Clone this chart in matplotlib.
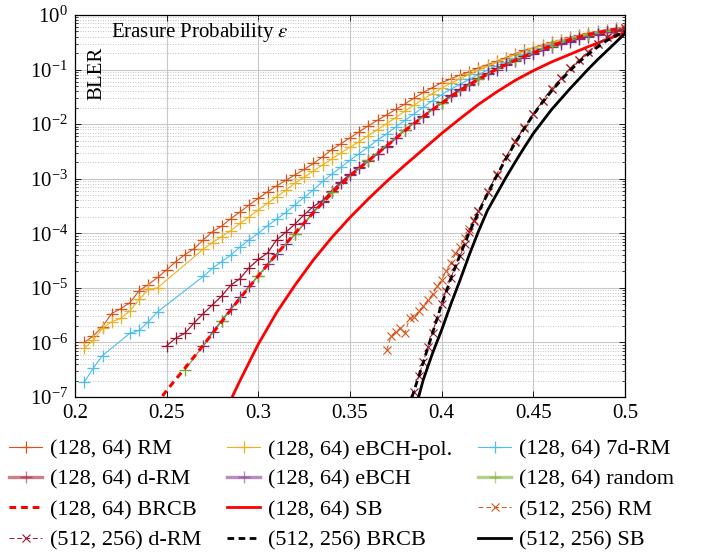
import numpy as np
import matplotlib
matplotlib.use("Agg")
import matplotlib.pyplot as plt
from matplotlib.lines import Line2D
from matplotlib.ticker import LogLocator, FixedLocator, FuncFormatter, NullFormatter

plt.rcParams['font.family'] = ['Liberation Serif', 'DejaVu Serif']
plt.rcParams['mathtext.fontset'] = 'stix'

# ---------------- data (BLER stored as log10 values) ----------------
eps_rm128 = [0.205, 0.21, 0.215, 0.22, 0.225, 0.23, 0.235, 0.24, 0.245, 0.25,
             0.255, 0.26, 0.265, 0.27, 0.275, 0.28, 0.285, 0.29, 0.295, 0.30,
             0.305, 0.31, 0.315, 0.32, 0.325, 0.33, 0.335, 0.34, 0.345, 0.35,
             0.355, 0.36, 0.365, 0.37, 0.375, 0.38, 0.385, 0.39, 0.395, 0.40,
             0.405, 0.41, 0.415, 0.42, 0.425, 0.43, 0.435, 0.44, 0.445, 0.45,
             0.455, 0.46, 0.465, 0.47, 0.475, 0.48, 0.485, 0.49, 0.495, 0.50]
rm128_log = [-6.00, -5.88, -5.71, -5.47, -5.38, -5.27, -5.05, -4.94, -4.81, -4.67,
             -4.52, -4.39, -4.28, -4.12, -3.97, -3.87, -3.73, -3.61, -3.48, -3.36,
             -3.24, -3.13, -3.03, -2.93, -2.83, -2.72, -2.60, -2.47, -2.36, -2.25,
             -2.14, -2.03, -1.93, -1.83, -1.73, -1.63, -1.52, -1.42, -1.33, -1.24,
             -1.17, -1.10, -1.04, -0.97, -0.91, -0.85, -0.78, -0.71, -0.65, -0.60,
             -0.55, -0.50, -0.46, -0.41, -0.37, -0.33, -0.30, -0.27, -0.24, -0.22]

eps_pol128 = [0.205, 0.21, 0.215, 0.22, 0.225, 0.23, 0.235, 0.24, 0.245,
              0.27, 0.275, 0.28, 0.285, 0.29, 0.295, 0.30, 0.305, 0.31, 0.315,
              0.32, 0.325, 0.33, 0.335, 0.34, 0.345, 0.35, 0.355, 0.36, 0.365,
              0.37, 0.375, 0.38, 0.385, 0.39, 0.395, 0.40, 0.405, 0.41, 0.415,
              0.42, 0.425, 0.43, 0.435, 0.44, 0.445, 0.45, 0.455, 0.46, 0.465,
              0.47, 0.475, 0.48, 0.485, 0.49, 0.495, 0.50]
pol128_log = [-6.11, -5.96, -5.74, -5.62, -5.56, -5.42, -5.21, -5.03, -5.00,
              -4.29, -4.17, -4.06, -3.95, -3.82, -3.70, -3.57, -3.45, -3.33, -3.21,
              -3.08, -2.97, -2.86, -2.75, -2.64, -2.53, -2.42, -2.32, -2.21, -2.10,
              -1.99, -1.88, -1.76, -1.65, -1.54, -1.44, -1.34, -1.25, -1.17, -1.09,
              -1.01, -0.94, -0.87, -0.80, -0.73, -0.67, -0.61, -0.56, -0.51, -0.46,
              -0.42, -0.38, -0.34, -0.31, -0.28, -0.25, -0.23]

eps_7drm128 = [0.205, 0.21, 0.215, 0.23, 0.235, 0.24, 0.245,
               0.27, 0.275, 0.28, 0.285, 0.29, 0.295, 0.30, 0.305, 0.31, 0.315,
               0.32, 0.325, 0.33, 0.335, 0.34, 0.345, 0.35, 0.355, 0.36, 0.365,
               0.37, 0.375, 0.38, 0.385, 0.39, 0.395, 0.40, 0.405, 0.41, 0.415,
               0.42, 0.425, 0.43, 0.435, 0.44, 0.445, 0.45, 0.455, 0.46, 0.465,
               0.47, 0.475, 0.48, 0.485, 0.49, 0.495, 0.50]
drm7_128_log = [-6.73, -6.47, -6.24, -5.83, -5.78, -5.62, -5.44,
                -4.79, -4.64, -4.52, -4.40, -4.25, -4.12, -4.00, -3.86, -3.74, -3.62,
                -3.48, -3.34, -3.21, -3.05, -2.92, -2.79, -2.66, -2.54, -2.42, -2.29,
                -2.18, -2.05, -1.93, -1.81, -1.69, -1.57, -1.46, -1.36, -1.27, -1.18,
                -1.09, -1.01, -0.93, -0.86, -0.79, -0.72, -0.66, -0.60, -0.54, -0.49,
                -0.44, -0.40, -0.36, -0.32, -0.29, -0.26, -0.24]

eps_drm128 = [0.25, 0.255, 0.26, 0.265, 0.27, 0.275, 0.28, 0.285, 0.29, 0.295,
              0.30, 0.305, 0.31, 0.315, 0.32, 0.325, 0.33, 0.335, 0.34, 0.345,
              0.35, 0.355, 0.36, 0.365, 0.37, 0.375, 0.38, 0.385, 0.39, 0.395,
              0.40, 0.405, 0.41, 0.415, 0.42, 0.425, 0.43, 0.435, 0.44, 0.445,
              0.45, 0.455, 0.46, 0.465, 0.47, 0.475, 0.48, 0.485, 0.49, 0.495, 0.50]
drm128_log = [-6.06, -5.92, -5.83, -5.64, -5.47, -5.31, -5.15, -4.95, -4.83, -4.63,
              -4.48, -4.36, -4.12, -3.98, -3.83, -3.66, -3.51, -3.40, -3.22, -3.06,
              -2.92, -2.79, -2.66, -2.54, -2.40, -2.25, -2.10, -1.97, -1.85, -1.72,
              -1.60, -1.47, -1.36, -1.26, -1.16, -1.07, -0.98, -0.90, -0.83, -0.76,
              -0.70, -0.63, -0.57, -0.52, -0.47, -0.42, -0.38, -0.34, -0.31, -0.28, -0.25]

eps_ebch128 = [0.27, 0.275, 0.28, 0.285, 0.29, 0.295, 0.30, 0.305, 0.31, 0.315,
               0.32, 0.325, 0.33, 0.335, 0.34, 0.345, 0.35, 0.355, 0.36, 0.365,
               0.37, 0.375, 0.38, 0.385, 0.39, 0.395, 0.40, 0.405, 0.41, 0.415,
               0.42, 0.425, 0.43, 0.435, 0.44, 0.445, 0.45, 0.455, 0.46, 0.465,
               0.47, 0.475, 0.48, 0.485, 0.49, 0.495, 0.50]
ebch128_log = [-6.07, -5.81, -5.60, -5.38, -5.17, -4.97, -4.78, -4.57, -4.38, -4.20,
               -4.02, -3.82, -3.61, -3.42, -3.25, -3.08, -2.94, -2.81, -2.68, -2.55,
               -2.41, -2.26, -2.11, -1.98, -1.86, -1.73, -1.62, -1.49, -1.38, -1.28,
               -1.18, -1.09, -1.00, -0.92, -0.85, -0.78, -0.72, -0.65, -0.59, -0.54,
               -0.49, -0.44, -0.40, -0.36, -0.32, -0.29, -0.26]

eps_rand128 = [0.26, 0.28, 0.30, 0.32, 0.34, 0.36, 0.38, 0.40, 0.42, 0.44, 0.46, 0.48, 0.50]
rand128_log = [-6.50, -5.61, -4.78, -4.01, -3.25, -2.66, -2.10, -1.62, -1.17, -0.83, -0.56, -0.37, -0.25]

eps_brcb128 = [0.24, 0.25, 0.26, 0.27, 0.28, 0.29, 0.30, 0.31, 0.32, 0.33, 0.34, 0.35,
               0.36, 0.37, 0.38, 0.39, 0.40, 0.41, 0.42, 0.43, 0.44, 0.45, 0.46,
               0.47, 0.48, 0.49, 0.50]
brcb128_log = [-7.32, -6.88, -6.47, -6.05, -5.62, -5.19, -4.78, -4.38, -4.00, -3.62, -3.27, -2.95,
               -2.67, -2.40, -2.12, -1.86, -1.62, -1.39, -1.18, -0.99, -0.83, -0.69, -0.56,
               -0.45, -0.36, -0.29, -0.24]

eps_sb128 = [0.28, 0.29, 0.30, 0.31, 0.32, 0.33, 0.34, 0.35, 0.36, 0.37, 0.38, 0.39,
             0.40, 0.41, 0.42, 0.43, 0.44, 0.45, 0.46, 0.47, 0.48, 0.49, 0.50]
sb128_log = [-7.40, -6.70, -6.03, -5.45, -4.95, -4.49, -4.08, -3.71, -3.37, -3.05, -2.75, -2.46,
             -2.17, -1.90, -1.64, -1.41, -1.20, -1.02, -0.86, -0.72, -0.58, -0.45, -0.32]

eps_rm512 = [0.37, 0.3725, 0.375, 0.3775, 0.38, 0.3825, 0.385, 0.3875, 0.39, 0.3925,
             0.395, 0.3975, 0.40, 0.4025, 0.405, 0.4075, 0.41, 0.4125, 0.415, 0.4175,
             0.42, 0.425, 0.43, 0.435, 0.44, 0.445, 0.45, 0.455, 0.46, 0.465,
             0.47, 0.475, 0.48, 0.485, 0.49, 0.495, 0.50]
rm512_log = [-6.14, -5.88, -5.80, -5.74, -5.82, -5.56, -5.54, -5.42, -5.34, -5.22,
             -5.12, -4.97, -4.85, -4.70, -4.55, -4.37, -4.25, -4.08, -3.93, -3.76,
             -3.60, -3.24, -2.92, -2.60, -2.31, -2.06, -1.81, -1.57, -1.35, -1.16,
             -0.98, -0.82, -0.67, -0.53, -0.41, -0.31, -0.24]

eps_drm512 = [0.3825, 0.385, 0.3875, 0.39, 0.3925, 0.395, 0.3975, 0.40, 0.4025, 0.405,
              0.4075, 0.41, 0.4125, 0.415, 0.4175, 0.42, 0.425, 0.43, 0.435, 0.44,
              0.445, 0.45, 0.455, 0.46, 0.465, 0.47, 0.475, 0.48, 0.485, 0.49, 0.495, 0.50]
drm512_log = [-7.08, -6.90, -6.62, -6.35, -6.08, -5.83, -5.55, -5.29, -5.05, -4.82,
              -4.60, -4.42, -4.20, -3.97, -3.78, -3.60, -3.25, -2.93, -2.61, -2.32,
              -2.07, -1.81, -1.57, -1.35, -1.16, -0.98, -0.82, -0.67, -0.53, -0.41, -0.31, -0.24]

eps_brcb512 = [0.38, 0.385, 0.39, 0.395, 0.40, 0.405, 0.41, 0.415, 0.42, 0.425, 0.43,
               0.435, 0.44, 0.445, 0.45, 0.455, 0.46, 0.465, 0.47, 0.475, 0.48, 0.485,
               0.49, 0.495, 0.50]
brcb512_log = [-7.40, -6.88, -6.36, -5.83, -5.30, -4.83, -4.40, -3.99, -3.62, -3.28, -2.95,
               -2.64, -2.35, -2.08, -1.83, -1.60, -1.39, -1.20, -1.02, -0.86, -0.72, -0.59,
               -0.47, -0.38, -0.30]

eps_sb512 = [0.385, 0.39, 0.395, 0.40, 0.405, 0.41, 0.415, 0.42, 0.425, 0.43, 0.435,
             0.44, 0.445, 0.45, 0.455, 0.46, 0.465, 0.47, 0.475, 0.48, 0.485, 0.49,
             0.495, 0.50]
sb512_log = [-7.30, -6.68, -6.20, -5.77, -5.30, -4.86, -4.40, -3.97, -3.58, -3.28, -2.98,
             -2.70, -2.43, -2.17, -1.95, -1.73, -1.54, -1.35, -1.17, -0.99, -0.82, -0.66,
             -0.50, -0.34]

labels = ["(128, 64) RM", "(128, 64) eBCH-pol.", "(128, 64) 7d-RM",
          "(128, 64) d-RM", "(128, 64) eBCH", "(128, 64) random",
          "(128, 64) BRCB", "(128, 64) SB", "(512, 256) RM",
          "(512, 256) d-RM", "(512, 256) BRCB", "(512, 256) SB"]
x_ticks = [0.2, 0.25, 0.3, 0.35, 0.4, 0.45, 0.5]

# ---------------- styles ----------------
C_RM = '#D95319'
C_POL = '#EDB120'
C_7D = '#4DBEEE'
C_DRM = '#A2142F'
C_EBCH = '#7E2F8E'
C_RAND = '#77AC30'
C_RED = '#FF0000'

fig = plt.figure(figsize=(7.17, 5.52), dpi=100)
ax = fig.add_axes([75/717, 1-397/552, 550/717, 382/552])

mk = dict(marker='+', markersize=8, markeredgewidth=0.9)
series = [
    (eps_rm128, rm128_log, dict(color=C_RM, lw=0.8, **mk)),
    (eps_pol128, pol128_log, dict(color=C_POL, lw=0.8, **mk)),
    (eps_7drm128, drm7_128_log, dict(color=C_7D, lw=0.8, **mk)),
    (eps_drm128, drm128_log, dict(color=C_DRM, lw=0.9, **mk)),
    (eps_ebch128, ebch128_log, dict(color=C_EBCH, lw=0.9, **mk)),
    (eps_rand128, rand128_log, dict(color=C_RAND, lw=0.9, **mk)),
    (eps_brcb128, brcb128_log, dict(color=C_RED, lw=2.2, ls=(0, (2.2, 1.6)))),
    (eps_sb128, sb128_log, dict(color=C_RED, lw=2.0)),
    (eps_rm512, rm512_log, dict(color=C_RM, lw=0.7, ls=(0, (5, 3)), marker='x', markersize=6, markeredgewidth=0.8)),
    (eps_drm512, drm512_log, dict(color=C_DRM, lw=0.7, ls=(0, (5, 3)), marker='x', markersize=6, markeredgewidth=0.8)),
    (eps_brcb512, brcb512_log, dict(color='black', lw=2.0, ls=(0, (2.4, 1.6)))),
    (eps_sb512, sb512_log, dict(color='black', lw=2.0)),
]

handles = []
for (ex, ly, st), lab in zip(series, labels):
    h, = ax.plot(ex, 10.0 ** np.array(ly), label=lab, **st)
    handles.append(h)

# legend proxies for the semi-transparent thick-line look
proxy = list(handles)
for i, c in [(3, C_DRM), (4, C_EBCH), (5, C_RAND)]:
    proxy[i] = Line2D([], [], color=c, lw=2.4, alpha=0.55, marker='+',
                      markersize=8, markeredgewidth=1.0, markeredgecolor=c)

ax.set_yscale('log')
ax.set_xlim(0.2, 0.5)
ax.set_ylim(1e-7, 1)

ax.xaxis.set_major_locator(FixedLocator(x_ticks))
ax.xaxis.set_major_formatter(FuncFormatter(lambda v, p: '%g' % v))
ax.yaxis.set_major_locator(LogLocator(base=10, numticks=20))
ax.yaxis.set_minor_locator(LogLocator(base=10, subs=np.arange(2, 10), numticks=20))
ax.yaxis.set_minor_formatter(NullFormatter())

ax.grid(True, which='major', color='#c8c8c8', lw=0.8, ls='-')
ax.grid(True, which='minor', axis='y', color='#b0b0b0', lw=0.6, ls=(0, (1, 2)))
ax.set_axisbelow(True)

ax.tick_params(which='both', direction='in', top=True, right=True, labelsize=15)
ax.tick_params(which='major', length=4, width=0.6, pad=5)
ax.tick_params(which='minor', length=2.5, width=0.5)
for s in ax.spines.values():
    s.set_linewidth(0.9)

ax.text(0.065, 0.953, r'Erasure Probability $\epsilon$', transform=ax.transAxes,
        fontsize=15, ha='left', va='center')
ax.text(0.04, 0.848, 'BLER', transform=ax.transAxes, fontsize=15,
        rotation=90, ha='center', va='center')

order = [i for c in range(3) for i in range(c, 12, 3)]
fig.legend([proxy[i] for i in order], [labels[i] for i in order],
           loc='upper left', bbox_to_anchor=(9/717, 1-439/552), ncol=3,
           frameon=False, fontsize=16, handlelength=1.5, handletextpad=0.35,
           columnspacing=1.15, labelspacing=0.44, borderpad=0, borderaxespad=0)

fig.savefig('out.png', dpi=100)
